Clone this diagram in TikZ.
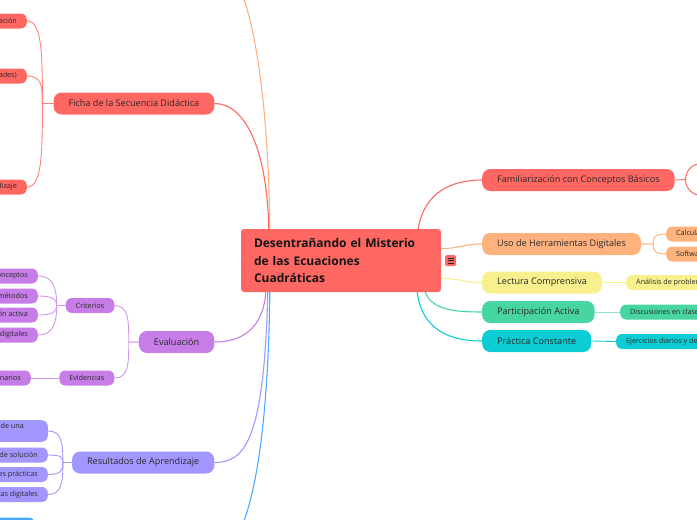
\documentclass[tikz,border=0pt]{standalone}
\usepackage{fontspec}
\setmainfont{Open Sans}
\usepackage{tikz}
\usetikzlibrary{positioning}
\definecolor{rojo}{RGB}{255,104,98}
\definecolor{naranja}{RGB}{255,178,126}
\definecolor{amarillo}{RGB}{248,240,140}
\definecolor{verde}{RGB}{71,214,162}
\definecolor{cian}{RGB}{11,205,211}
\definecolor{morado}{RGB}{198,125,232}
\definecolor{lavanda}{RGB}{161,151,255}
\definecolor{azul}{RGB}{75,169,255}
\definecolor{tinta}{RGB}{40,40,40}
\tikzset{
  rama/.style={fill=#1,rounded corners=8pt,minimum height=22pt,inner xsep=15pt,inner ysep=0pt,text=tinta,font=\fontsize{9.1}{11}\selectfont},
  hoja/.style={fill=#1,rounded corners=6pt,minimum height=15pt,inner xsep=10pt,inner ysep=0pt,text=tinta,font=\fontsize{7.2}{10}\selectfont},
  enlace/.style={draw=#1,line width=1.1pt},
  subenlace/.style={draw=#1,line width=0.9pt},
}

\begin{document}
\begin{tikzpicture}[x=1pt,y=-1pt]
  \useasboundingbox (0,0) rectangle (697,520);
  \clip (0,0) rectangle (697,520);
  % nodo central
  \node[fill=rojo,rounded corners=3pt,minimum width=200pt,minimum height=63pt,inner xsep=13pt,
        text width=174pt,align=left,text=tinta!50!black,font=\bfseries\fontsize{12}{17.5}\selectfont]
        (centro) at (341,260.5) {Desentrañando el Misterio\\de las Ecuaciones\\Cuadráticas};
  \node[fill=rojo,rounded corners=1.5pt,minimum size=11pt,inner sep=0pt] (menu) at (450.5,260.5) {};
  \foreach \d in {-2.5,0,2.5}{\draw[tinta,line width=0.8pt] ([xshift=-3pt,yshift=\d pt]menu.center) -- ([xshift=3pt,yshift=\d pt]menu.center);}
  % ramas de la derecha
  \node[rama=rojo,anchor=west] (familia) at (482,180) {Familiarización con Conceptos Básicos};
  \node[rama=naranja,anchor=west] (herram) at (482,244) {Uso de Herramientas Digitales};
  \node[rama=amarillo,anchor=west] (lectura) at (482,282.5) {Lectura Comprensiva};
  \node[rama=verde,anchor=west] (particip) at (482,312) {Participación Activa};
  \node[rama=cian,anchor=west] (practica) at (482,341) {Práctica Constante};
  \node[draw=rojo,fill=white,line width=1pt,rounded corners=16pt,minimum height=32pt,minimum width=80pt,anchor=west] (familia1) at (685,179.5) {};
  \node[hoja=naranja,anchor=west] (herram1) at (666,234) {Calculadoras gráficas};
  \node[hoja=naranja,anchor=west] (herram2) at (666,254) {Software matemático};
  \node[hoja=amarillo,anchor=west] (lectura1) at (626,282.5) {Análisis de problemas};
  \node[hoja=verde,anchor=west] (particip1) at (620,312) {Discusiones en clase};
  \node[hoja=cian,anchor=west] (practica1) at (616,341.5) {Ejercicios diarios y de repaso};
  % ramas de la izquierda
  \node[rama=rojo,anchor=east] (ficha) at (214.5,103.5) {Ficha de la Secuencia Didáctica};
  \node[rama=morado,anchor=east] (evalua) at (214.5,342) {Evaluación};
  \node[rama=lavanda,anchor=east] (result) at (214.5,462.5) {Resultados de Aprendizaje};
  \coordinate (arriba) at (214,-40);
  \coordinate (abajo) at (214,556);
  \node[hoja=rojo,anchor=east] (ficha1) at (27,21) {Datos de identificación};
  \node[hoja=rojo,anchor=east] (ficha2) at (27,76) {Secuencia (fases y actividades)};
  \node[hoja=rojo,anchor=east] (ficha3) at (27,187) {Propósito de aprendizaje};
  \node[hoja=morado,anchor=east] (criterio) at (114.5,305.5) {Criterios};
  \node[hoja=morado,anchor=east] (evidencia) at (114.5,378) {Evidencias};
  \node[hoja=morado,anchor=east] (criterio1) at (38,276) {Comprensión de conceptos};
  \node[hoja=morado,anchor=east] (criterio2) at (38,296) {Dominio de métodos};
  \node[hoja=morado,anchor=east] (criterio3) at (38,315) {Participación activa};
  \node[hoja=morado,anchor=east] (criterio4) at (38,335) {Uso de herramientas digitales};
  \node[hoja=morado,anchor=east] (evidencia1) at (31,378) {Cuestionarios};
  \node[hoja=lavanda,anchor=east,align=left,inner ysep=3pt] (result1) at (48,431) {Comprensión de la definición de una\hspace*{14pt}\\ecuación cuadrática};
  \node[hoja=lavanda,anchor=east] (result2) at (48,455) {Dominio de métodos de solución};
  \node[hoja=lavanda,anchor=east] (result3) at (48,474.5) {Aplicaciones prácticas};
  \node[hoja=lavanda,anchor=east] (result4) at (48,494.5) {Uso de herramientas digitales};
  \node[hoja=azul,anchor=east,minimum width=70pt] (azul1) at (35,525) {};
  % conectores desde el centro
  \draw[enlace=rojo] ([xshift=-23pt]centro.north east) .. controls +(6,-37) and +(-30,0) .. (familia.west);
  \draw[enlace=naranja] ([yshift=12pt]centro.east) .. controls +(20,0) and +(-20,0) .. (herram.west);
  \draw[enlace=amarillo] ([yshift=-18pt]centro.east) .. controls +(20,0) and +(-20,0) .. (lectura.west);
  \draw[enlace=verde] ([xshift=-16pt]centro.south east) .. controls +(7,18) and +(-27,0) .. (particip.west);
  \draw[enlace=cian] ([xshift=-24pt]centro.south east) .. controls +(5,38) and +(-32,0) .. (practica.west);
  \draw[enlace=rojo] ([xshift=28pt]centro.north west) .. controls +(-1.7,-79) and +(31,0) .. (ficha.east);
  \draw[enlace=naranja] ([xshift=29pt]centro.north west) .. controls +(-2,-170) and +(30,0) .. (arriba);
  \draw[enlace=morado] ([xshift=25pt]centro.south west) .. controls +(-2.7,38) and +(25.5,0) .. (evalua.east);
  \draw[enlace=lavanda] ([xshift=27pt]centro.south west) .. controls +(-3.7,148) and +(30.5,0) .. (result.east);
  \draw[enlace=azul] ([xshift=29pt]centro.south west) .. controls +(-2,180) and +(30,0) .. (abajo);
  % conectores de las hojas
  \draw[subenlace=rojo] (familia.east) -- (familia1.west);
  \foreach \h/\d in {herram1/-6,herram2/6}{\draw[subenlace=naranja] (herram.east) -- ++(12,0) .. controls +(0,\d) and +(-12,0) .. (\h.west);}
  \draw[subenlace=amarillo] (lectura.east) -- (lectura1.west);
  \draw[subenlace=verde!60] (particip.east) -- (particip1.west);
  \draw[subenlace=cian] (practica.east) -- (practica1.west);
  \foreach \h/\d in {ficha1/-50,ficha2/-17,ficha3/50}{\draw[subenlace=rojo!85] (ficha.west) -- ++(-11,0) .. controls +(0,\d) and +(15,0) .. (\h.east);}
  \foreach \h/\d in {criterio/-22,evidencia/22}{\draw[subenlace=morado!80] (evalua.west) -- ++(-10,0) .. controls +(0,\d) and +(14,0) .. (\h.east);}
  \foreach \h/\d in {criterio1/-18,criterio2/-6,criterio3/6,criterio4/18}{\draw[subenlace=morado!80] (criterio.west) -- ++(-9,0) .. controls +(0,\d) and +(15,0) .. (\h.east);}
  \draw[subenlace=morado!80] (evidencia.west) -- (evidencia1.east);
  \foreach \h/\d in {result1/-19,result2/-5,result3/7,result4/19}{\draw[subenlace=lavanda] (result.west) -- ++(-9,0) .. controls +(0,\d) and +(14,0) .. (\h.east);}
\end{tikzpicture}
\end{document}
